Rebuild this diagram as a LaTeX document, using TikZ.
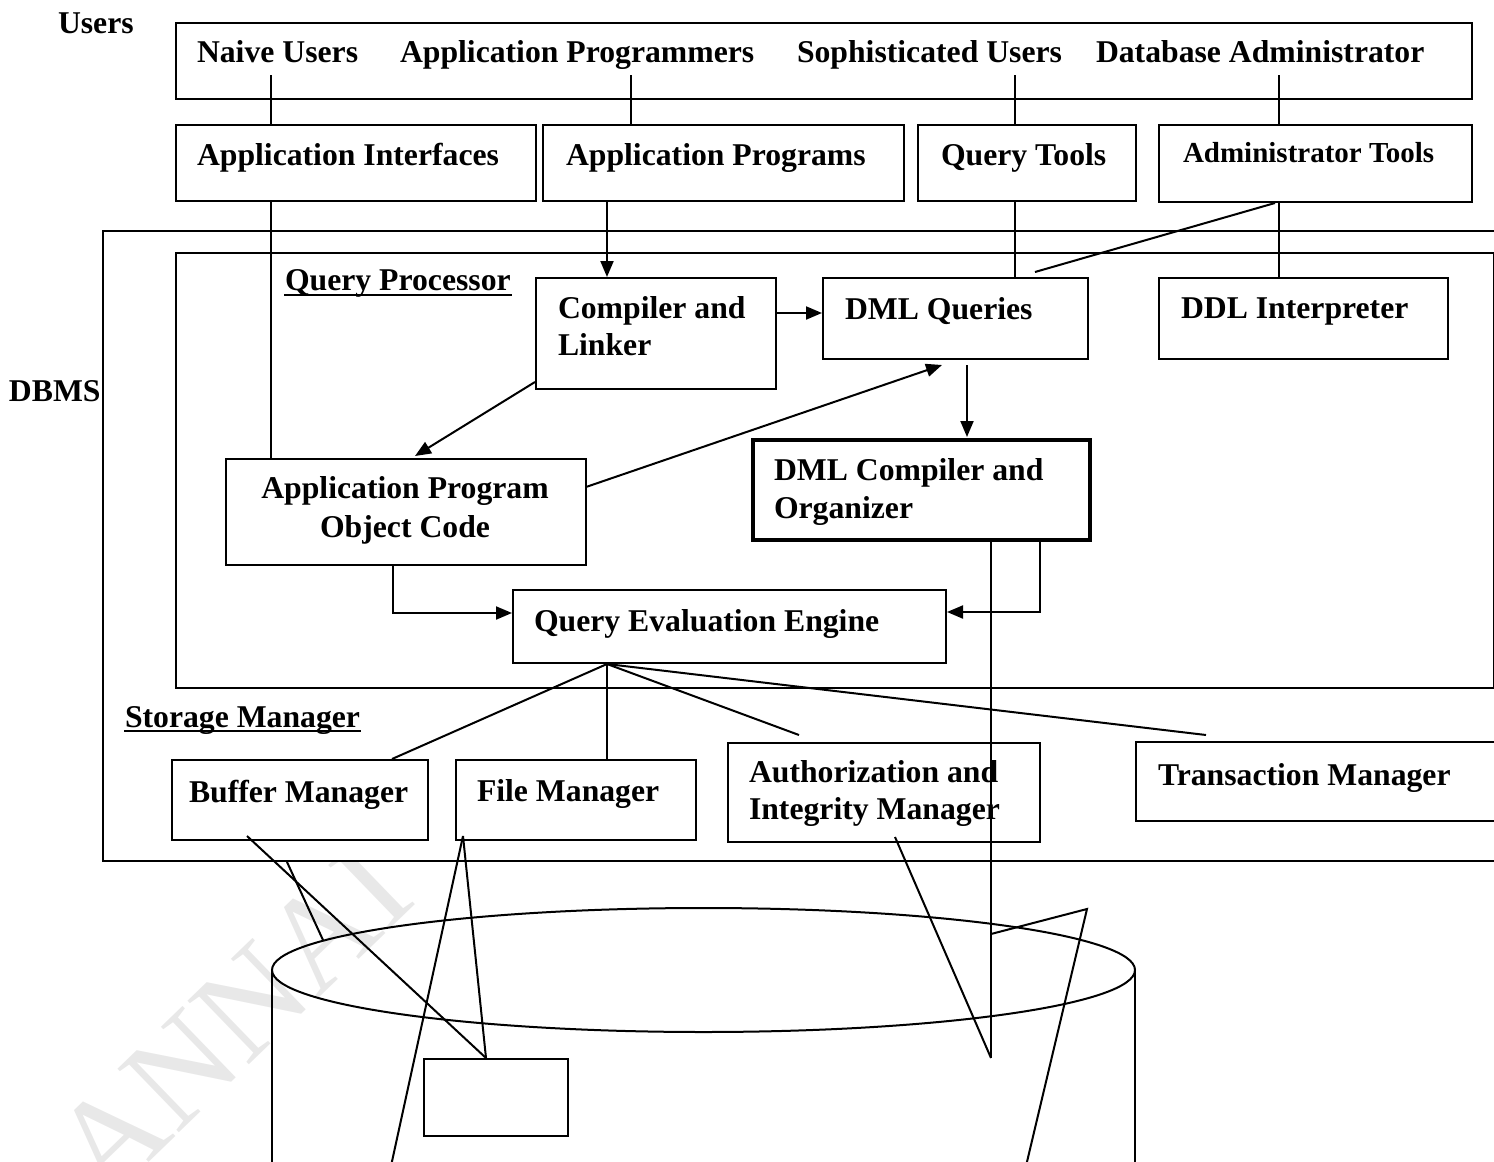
\documentclass[tikz,border=0pt]{standalone}
\usepackage{fontspec}
\setmainfont{Liberation Serif}
\usetikzlibrary{arrows.meta,calc}
\begin{document}
\begin{tikzpicture}[x=1pt,y=-1pt,
  line width=2pt,
  box/.style={draw, line width=2pt, rectangle, inner sep=0pt, anchor=north west},
  lbl/.style={inner sep=0pt, anchor=base west, font=\bfseries\fontsize{31.7}{38}\selectfont},
  arr/.style={-{Triangle[length=16pt,width=13pt]}},
  uline/.style={line width=2.5pt}]
\clip (0,0) rectangle (1494,1162);

% faint watermark lettering
\begin{scope}
  \clip (0,862) rectangle (1494,1162);
  \node[rotate=44, text=black!9, inner sep=0pt,
        font=\fontsize{135}{135}\selectfont] (wm) at (232,1020) {ANNAI};
\end{scope}

% ---- users row ----
\node[box, minimum width=1296pt, minimum height=76pt] (users) at (175,22) {};
\node[lbl] (tusers) at (57,33) {Users};
\node[lbl] (tnaive) at (196,62) {Naive Users};
\node[lbl] (tappprog) at (399,62) {Application Programmers};
\node[lbl] (tsoph) at (796,62) {Sophisticated Users};
\node[lbl] (tdba) at (1095,62) {Database Administrator};

% ---- interface row ----
\node[box, minimum width=360pt, minimum height=76pt] (ai) at (175,124) {};
\node[box, minimum width=361pt, minimum height=76pt] (ap) at (542,124) {};
\node[box, minimum width=218pt, minimum height=76pt] (qt) at (917,124) {};
\node[box, minimum width=313pt, minimum height=77pt] (at) at (1158,124) {};
\node[lbl] (tai) at (196,165) {Application Interfaces};
\node[lbl] (tap) at (565,165) {Application Programs};
\node[lbl] (tqt) at (940,165) {Query Tools};
\node[lbl, font=\bfseries\fontsize{29}{35}\selectfont] (tat) at (1182,162) {Administrator Tools};

% ---- DBMS and query processor frames ----
\node[box, minimum width=1420pt, minimum height=630pt] (dbms) at (102,230) {};
\node[box, minimum width=1318pt, minimum height=435pt] (qp) at (175,252) {};
\node[lbl] (tdbms) at (8,401) {DBMS};
\node[lbl] (tqp) at (284,290) {Query Processor};
\draw[uline] ($(tqp.base west)+(0,5)$) -- ($(tqp.base east)+(0,5)$);

% ---- query processor components ----
\node[box, minimum width=240pt, minimum height=111pt] (cl) at (535,277) {};
\node[box, minimum width=265pt, minimum height=81pt] (dq) at (822,277) {};
\node[box, minimum width=289pt, minimum height=81pt] (ddl) at (1158,277) {};
\node[box, minimum width=360pt, minimum height=106pt] (obj) at (225,458) {};
\node[box, line width=3.5pt, minimum width=337pt, minimum height=100pt] (dmlc) at (751,438) {};
\node[box, minimum width=433pt, minimum height=73pt] (qee) at (512,589) {};

\node[lbl] (tcl1) at (557,318) {Compiler and};
\node[lbl] (tcl2) at (557,355) {Linker};
\node[lbl] (tdq) at (844,319) {DML Queries};
\node[lbl] (tddl) at (1180,318) {DDL Interpreter};
\node[lbl, anchor=base] (tobj1) at (405,498) {Application Program};
\node[lbl, anchor=base] (tobj2) at (405,537) {Object Code};
\node[lbl] (tdmlc1) at (773,480) {DML Compiler and};
\node[lbl] (tdmlc2) at (773,518) {Organizer};
\node[lbl] (tqee) at (533,631) {Query Evaluation Engine};

% ---- storage manager components ----
\node[lbl] (tsm) at (124,727) {Storage Manager};
\draw[uline] ($(tsm.base west)+(0,4)$) -- ($(tsm.base east)+(0,4)$);
\node[box, minimum width=256pt, minimum height=80pt] (buf) at (171,759) {};
\node[box, minimum width=240pt, minimum height=80pt] (fm) at (455,759) {};
\node[box, minimum width=312pt, minimum height=99pt] (auth) at (727,742) {};
\node[box, minimum width=400pt, minimum height=79pt] (tm) at (1135,741) {};
\node[lbl] (tbuf) at (188,802) {Buffer Manager};
\node[lbl] (tfm) at (476,801) {File Manager};
\node[lbl] (tauth1) at (748,782) {Authorization and};
\node[lbl] (tauth2) at (748,819) {Integrity Manager};
\node[lbl] (ttm) at (1157,785) {Transaction Manager};

% ---- disk storage ----
\draw (703.5,970) ellipse [x radius=431.5, y radius=62];
\draw (272,970) -- (272,1170);
\draw (1135,970) -- (1135,1170);
\node[box, minimum width=144pt, minimum height=77pt] (sr) at (423,1058) {};

% ---- connectors: users to tools ----
\draw ($(users.south west)+(96,-25)$) -- ($(ai.north west)+(96,0)$);
\draw ($(users.south west)+(456,-25)$) -- ($(ap.north west)+(89,0)$);
\draw ($(users.south west)+(840,-25)$) -- ($(qt.north west)+(98,0)$);
\draw ($(users.south west)+(1104,-25)$) -- ($(at.north west)+(121,0)$);

% ---- connectors: tools to query processor ----
\draw ($(ai.south west)+(96,0)$) -- ($(obj.north west)+(46,0)$);
\draw[arr] ($(ap.south west)+(65,0)$) -- ($(cl.north west)+(72,0)$);
\draw ($(qt.south west)+(98,0)$) -- ($(dq.north west)+(193,0)$);
\draw ($(at.south west)+(121,0)$) -- ($(ddl.north west)+(121,0)$);
\draw ($(at.south west)+(117,0)$) -- ($(dq.north west)+(213,-5)$);

% ---- connectors inside the query processor ----
\draw[arr] ($(cl.north east)+(0,36)$) -- ($(dq.north west)+(0,36)$);
\draw[arr] ($(cl.south west)+(0,-8)$) -- ($(obj.north west)+(190,-2)$);
\draw[arr] ($(obj.north east)+(-1,29)$) -- ($(dq.south west)+(120,5)$);
\draw[arr] ($(dq.south west)+(145,5)$) -- ($(dmlc.north west)+(216,-1)$);
\draw[arr] ($(obj.south west)+(168,0)$) |- ($(qee.north west)+(0,24)$);
\draw[arr] ($(dmlc.south west)+(289,0)$) |- ($(qee.north east)+(0,23)$);

% ---- query evaluation engine to storage manager ----
\coordinate (fan) at ($(qee.south west)+(95,0)$);
\draw (fan) -- ($(buf.north west)+(221,0)$);
\draw (fan) -- ($(fm.north west)+(152,0)$);
\draw (fan) -- ($(auth.north west)+(72,-7)$);
\draw (fan) -- ($(tm.north west)+(71,-6)$);

% ---- lines down to the disk ----
\coordinate (dv) at (991,1058);
\coordinate (zz) at (991,934);
\coordinate (zt) at (1087,909);
\coordinate (zb) at (1026,1166);
\coordinate (fb) at (391,1166);
\coordinate (cy) at (323,940);
\draw ($(dmlc.south west)+(240,0)$) -- (dv);
\draw (zz) -- (zt) -- (zb);
\draw ($(auth.south west)+(168,-6)$) -- (dv);
\draw ($(buf.south west)+(76,-5)$) -- ($(sr.north west)+(63,0)$);
\draw ($(fm.south west)+(8,-5)$) -- ($(sr.north west)+(63,0)$);
\draw ($(fm.south west)+(8,-5)$) -- (fb);
\draw ($(dbms.south west)+(185,0)$) -- (cy);
\end{tikzpicture}
\end{document}
